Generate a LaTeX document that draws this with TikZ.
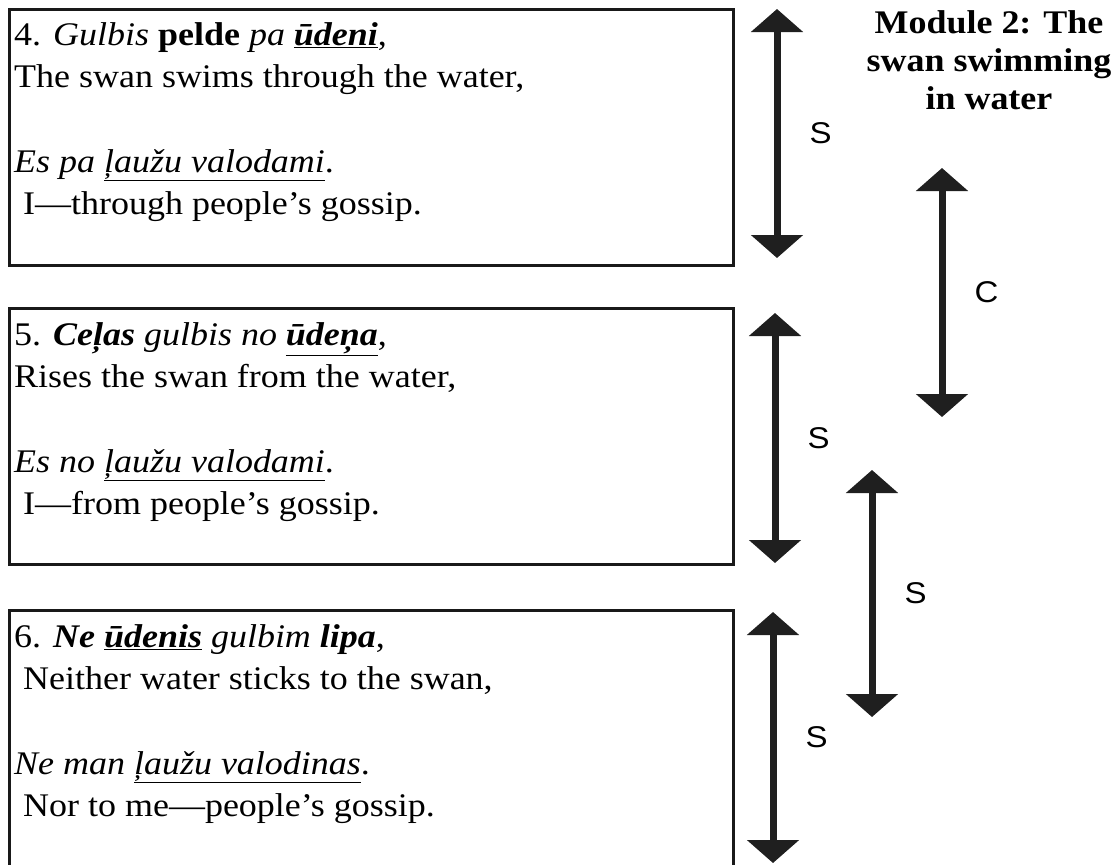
\documentclass[tikz,border=0pt]{standalone}
\usepackage{fontspec}
\setmainfont{Liberation Serif}[FakeStretch=1.09]
\newfontfamily\markfont{Liberation Sans}[FakeStretch=1.1]
\usetikzlibrary{arrows.meta,positioning}

\tikzset{
  stanza/.style={draw=black!90, line width=2.6pt, anchor=north west, minimum width=724pt, minimum height=256pt, inner sep=0pt},
  verse/.style={align=left, inner sep=0pt, font=\fontsize{33pt}{42.3pt}\selectfont},
  link/.style={line width=7pt, draw=black!88, {Triangle[width=51pt,length=23pt]}-{Triangle[width=51pt,length=23pt]}},
  linklabel/.style={right=29pt, inner sep=0pt, font=\markfont\fontsize{30pt}{30pt}\selectfont},
  heading/.style={align=center, inner sep=0pt, anchor=north, font=\bfseries\fontsize{33pt}{38pt}\selectfont}
}

\begin{document}
\begin{tikzpicture}[x=1pt,y=-1pt]
    \useasboundingbox (0,0) rectangle (1117,865);
    \clip (0,0) rectangle (1117,865);

    % stanza boxes
    \node[stanza] (box4) at (8,8) {};
    \node[stanza] (box5) at (8,307) {};
    \node[stanza, minimum height=264pt] (box6) at (8,609) {};

    \node[verse, below right=14pt and 6pt of box4.north west] (text4) {
      4. \textit{Gulbis} \textbf{pelde} \textit{pa} \textbf{\textit{\underline{ūdeni}}},\\
      The swan swims through the water,\\[42.3pt]
      \textit{Es pa \underline{ļaužu valodami}}.\\
      \hspace*{9pt}I—through people’s gossip.};
    \node[verse, below right=15pt and 6pt of box5.north west] (text5) {
      5. \textbf{\textit{Ceļas}} \textit{gulbis no} \textbf{\textit{\underline{ūdeņa}}},\\
      Rises the swan from the water,\\[42.3pt]
      \textit{Es no \underline{ļaužu valodami}}.\\
      \hspace*{9pt}I—from people’s gossip.};
    \node[verse, below right=15pt and 6pt of box6.north west] (text6) {
      6. \textbf{\textit{Ne \underline{ūdenis}}} \textit{gulbim} \textbf{\textit{lipa}},\\
      \hspace*{9pt}Neither water sticks to the swan,\\[42.3pt]
      \textit{Ne man \underline{ļaužu valodinas}}.\\
      \hspace*{9pt}Nor to me—people’s gossip.};

    \node[heading] (module) at (989,10) {Module 2: The\\swan swimming\\in water};

    % arrow ends
    \coordinate (top4) at (777,9);    \coordinate (bot4) at (777,258);
    \coordinate (top45) at (942,168); \coordinate (bot45) at (942,417);
    \coordinate (top5) at (775,313);  \coordinate (bot5) at (775,563);
    \coordinate (top56) at (872,470); \coordinate (bot56) at (872,717);
    \coordinate (top6) at (773,612);  \coordinate (bot6) at (773,863);

    \draw[link] (top4) -- node[linklabel] (lab4) {S} (bot4);
    \draw[link] (top45) -- node[linklabel] (lab45) {C} (bot45);
    \draw[link] (top5) -- node[linklabel] (lab5) {S} (bot5);
    \draw[link] (top56) -- node[linklabel] (lab56) {S} (bot56);
    \draw[link] (top6) -- node[linklabel] (lab6) {S} (bot6);
\end{tikzpicture}
\end{document}
